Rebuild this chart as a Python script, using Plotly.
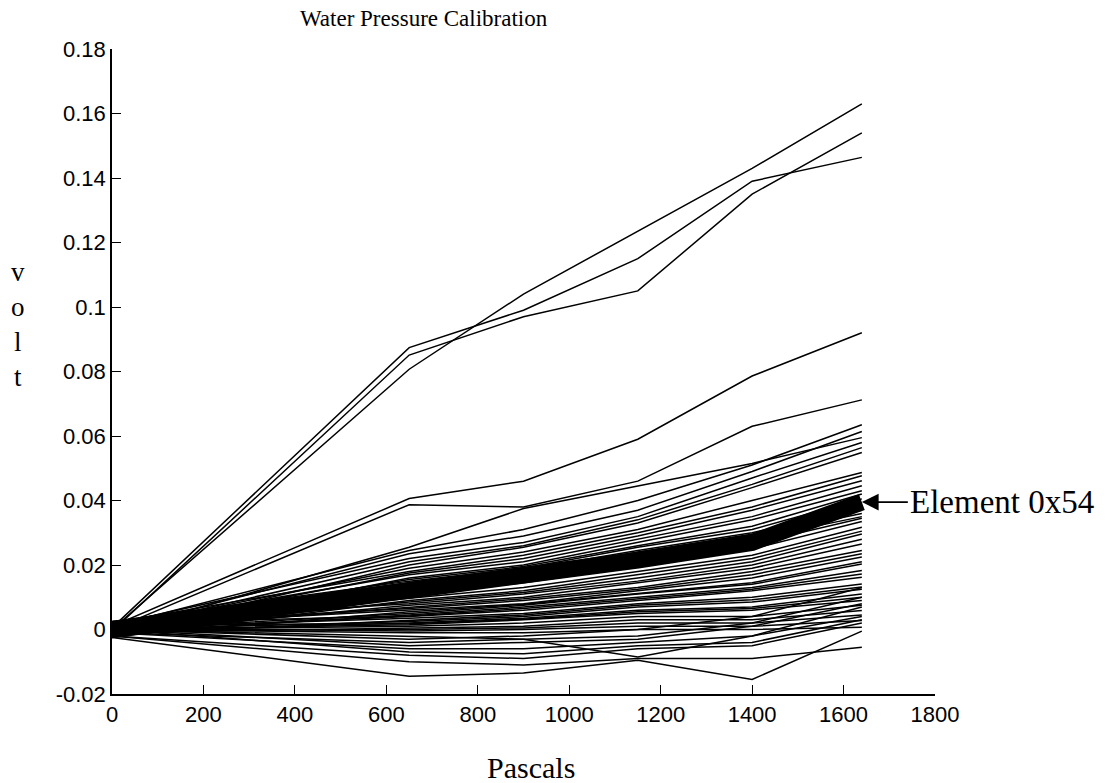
import plotly.graph_objects as go

# Pressure steps (Pa)
pascals = [0, 650, 900, 1150, 1400, 1640]

# Highly sensitive elements
top_lines = [
    [0.0000, 0.0807, 0.1040, 0.1235, 0.1430, 0.1630],
    [0.0005, 0.0874, 0.0990, 0.1150, 0.1390, 0.1464],
    [-0.0005, 0.0851, 0.0970, 0.1050, 0.1350, 0.1540],
]

# Medium elements
mid_lines = [
    [0.0010, 0.0406, 0.0460, 0.0590, 0.0786, 0.0920],
    [0.0000, 0.0387, 0.0380, 0.0460, 0.0630, 0.0712],
]

# Upper part of the main bundle
upper_bundle = [
    [0.0010, 0.0245, 0.0310, 0.0400, 0.0510, 0.0635],
    [0.0000, 0.0235, 0.0290, 0.0370, 0.0490, 0.0614],
    [-0.0010, 0.0255, 0.0375, 0.0445, 0.0515, 0.0595],
    [0.0015, 0.0220, 0.0270, 0.0350, 0.0470, 0.0580],
    [0.0000, 0.0210, 0.0260, 0.0340, 0.0450, 0.0564],
    [-0.0015, 0.0200, 0.0255, 0.0330, 0.0440, 0.0549],
    [0.0005, 0.0190, 0.0240, 0.0310, 0.0400, 0.0487],
    [0.0020, 0.0180, 0.0230, 0.0300, 0.0380, 0.0477],
    [-0.0005, 0.0175, 0.0220, 0.0290, 0.0370, 0.0461],
    [0.0010, 0.0170, 0.0210, 0.0280, 0.0350, 0.0446],
    [-0.0020, 0.0160, 0.0200, 0.0270, 0.0340, 0.0430],
    [0.0000, 0.0155, 0.0195, 0.0260, 0.0320, 0.0420],
    [0.0025, 0.0150, 0.0190, 0.0255, 0.0310, 0.0405],
    [0.0015, 0.0145, 0.0185, 0.0245, 0.0300, 0.0380],
    [-0.0025, 0.0140, 0.0180, 0.0240, 0.0295, 0.0370],
    [-0.0010, 0.0135, 0.0175, 0.0235, 0.0290, 0.0360],
    [0.0005, 0.0125, 0.0170, 0.0225, 0.0280, 0.0350],
    [0.0020, 0.0120, 0.0160, 0.0210, 0.0265, 0.0345],
]

# Lower part of the main bundle
lower_bundle = [
    [0.0000, 0.0105, 0.0145, 0.0195, 0.0250, 0.0335],
    [0.0010, 0.0095, 0.0130, 0.0180, 0.0230, 0.0317],
    [-0.0025, 0.0090, 0.0120, 0.0170, 0.0220, 0.0305],
    [0.0000, 0.0085, 0.0115, 0.0160, 0.0210, 0.0296],
    [0.0025, 0.0080, 0.0110, 0.0150, 0.0200, 0.0280],
    [-0.0010, 0.0075, 0.0100, 0.0145, 0.0190, 0.0265],
    [0.0000, 0.0070, 0.0095, 0.0130, 0.0180, 0.0245],
    [0.0015, 0.0065, 0.0090, 0.0125, 0.0170, 0.0235],
    [0.0010, 0.0060, 0.0080, 0.0120, 0.0160, 0.0225],
    [-0.0020, 0.0055, 0.0078, 0.0112, 0.0145, 0.0210],
    [0.0000, 0.0050, 0.0075, 0.0110, 0.0140, 0.0203],
    [-0.0010, 0.0045, 0.0070, 0.0100, 0.0130, 0.0183],
    [0.0020, 0.0042, 0.0065, 0.0095, 0.0125, 0.0172],
    [0.0000, 0.0040, 0.0060, 0.0090, 0.0120, 0.0162],
    [0.0005, 0.0035, 0.0050, 0.0080, 0.0100, 0.0141],
    [-0.0015, 0.0030, 0.0045, 0.0075, 0.0092, 0.0132],
    [0.0000, 0.0025, 0.0040, 0.0070, 0.0085, 0.0125],
    [-0.0005, 0.0020, 0.0035, 0.0060, 0.0070, 0.0110],
    [0.0015, 0.0018, 0.0032, 0.0055, 0.0065, 0.0100],
    [0.0000, 0.0015, 0.0030, 0.0050, 0.0060, 0.0090],
    [0.0000, 0.0010, 0.0020, 0.0040, 0.0040, 0.0075],
    [-0.0010, 0.0005, 0.0010, 0.0030, 0.0030, 0.0059],
    [0.0000, 0.0000, 0.0005, 0.0020, 0.0020, 0.0045],
    [0.0005, -0.0005, 0.0000, 0.0010, 0.0010, 0.0028],
    [0.0000, -0.0010, -0.0010, 0.0000, 0.0000, 0.0007],
]

# Elements that dip below zero
bottom_lines = [
    [0.0000, -0.0030, -0.0020, 0.0000, 0.0040, 0.0130],
    [-0.0010, -0.0040, -0.0030, -0.0020, 0.0020, 0.0100],
    [0.0000, -0.0050, -0.0040, -0.0030, 0.0010, 0.0080],
    [-0.0010, -0.0060, -0.0060, -0.0040, -0.0020, 0.0040],
    [0.0000, -0.0070, -0.0075, -0.0050, -0.0040, 0.0030],
    [-0.0020, -0.0080, -0.0090, -0.0060, -0.0050, 0.0020],
    [0.0000, -0.0020, -0.0030, -0.0085, -0.0020, 0.0070],
    [-0.0020, -0.0100, -0.0110, -0.0090, -0.0090, -0.0055],
    [-0.0025, -0.0145, -0.0135, -0.0095, -0.0155, -0.0005],
]

# Highlighted element
element_0x54 = [0.0000, 0.0115, 0.0160, 0.0215, 0.0270, 0.0395]
element_label = "Element 0x54"

y_tickvals = [-0.02, 0, 0.02, 0.04, 0.06, 0.08, 0.1, 0.12, 0.14, 0.16, 0.18]
y_ticktext = ["-0.02", "0", "0.02", "0.04", "0.06", "0.08", "0.1", "0.12", "0.14", "0.16", "0.18"]
x_tickvals = [0, 200, 400, 600, 800, 1000, 1200, 1400, 1600, 1800]

fig = go.Figure()
for group in (top_lines, mid_lines, upper_bundle, lower_bundle, bottom_lines):
    for series in group:
        fig.add_trace(go.Scatter(x=pascals, y=series, mode="lines",
                                 line=dict(color="black", width=1.5),
                                 showlegend=False, hoverinfo="skip"))

fig.add_trace(go.Scatter(x=pascals, y=element_0x54, mode="lines",
                         line=dict(color="black", width=17),
                         showlegend=False, name=element_label))

serif = "Liberation Serif, Times New Roman, serif"
sans = "Liberation Sans, Arial, sans-serif"

fig.update_layout(
    width=1113, height=783,
    margin=dict(l=112, r=178, t=49, b=89),
    paper_bgcolor="white", plot_bgcolor="white",
    showlegend=False,
    xaxis=dict(range=[0, 1800], tickvals=x_tickvals,
               showline=True, linecolor="black", linewidth=1.5,
               ticks="inside", ticklen=9, tickwidth=1.2, tickcolor="black",
               showgrid=False, zeroline=False,
               tickfont=dict(family=sans, size=22, color="black")),
    yaxis=dict(range=[-0.02, 0.18], tickvals=y_tickvals, ticktext=y_ticktext,
               showline=True, linecolor="black", linewidth=1.5,
               ticks="inside", ticklen=9, tickwidth=1.2, tickcolor="black",
               showgrid=False, zeroline=False,
               tickfont=dict(family=sans, size=22, color="black")),
    annotations=[
        dict(text="Water Pressure Calibration", xref="paper", yref="paper",
             x=(424 - 112) / 823, y=1 + (49 - 19) / 645, xanchor="center", yanchor="middle",
             showarrow=False, font=dict(family=serif, size=23, color="black")),
        dict(text="Pascals", xref="paper", yref="paper",
             x=(531 - 112) / 823, y=-(767 - 694) / 645, xanchor="center", yanchor="middle",
             showarrow=False, font=dict(family=serif, size=30, color="black")),
        dict(text="v<br>o<br>l<br>t", xref="paper", yref="paper",
             x=(18 - 112) / 823, y=(694 - 324) / 645, xanchor="center", yanchor="middle",
             showarrow=False, font=dict(family=serif, size=27, color="black")),
        dict(text=element_label, x=1640, y=element_0x54[-1], xref="x", yref="y",
             showarrow=True, ax=46, ay=0, xanchor="left", yanchor="middle",
             arrowhead=2, arrowsize=2.1, arrowwidth=1.6, arrowcolor="black",
             standoff=0, font=dict(family=serif, size=33, color="black")),
    ],
)

fig.write_html("out.html")
